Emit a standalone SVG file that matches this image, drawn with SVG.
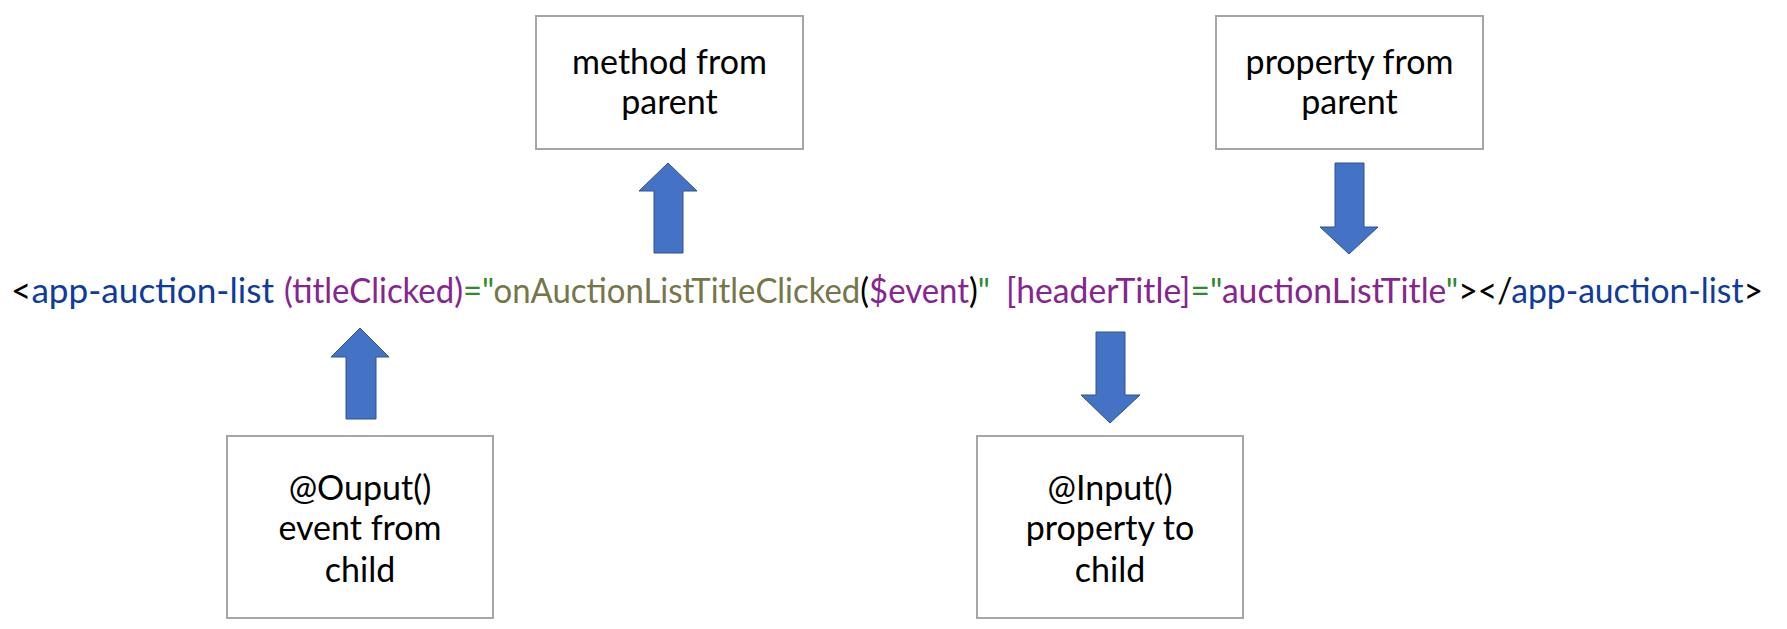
<svg xmlns="http://www.w3.org/2000/svg" width="1787" height="629" viewBox="0 0 1787 629">
  <style>
    .box { fill: #ffffff; stroke: #a6a6a6; stroke-width: 2; }
    .lbl { font-family: Lato, "Liberation Sans", sans-serif; font-size: 34px; fill: #000000; text-anchor: middle; }
    .arrow { fill: #4472c4; stroke: #2f528f; stroke-width: 1; }
    .code { font-family: Lato, "Liberation Sans", sans-serif; font-size: 35px; fill: #000000; }
    .blue { fill: #0d3b9e; }
    .purple { fill: #85258f; }
    .green { fill: #2d8a2d; }
    .olive { fill: #767649; }
    .black { fill: #000000; }
  </style>
  <rect width="1787" height="629" fill="#ffffff"/>

  <g id="method-from-parent">
    <rect class="box" x="536" y="16" width="267" height="133"/>
    <text class="lbl" x="669.5" y="74">method from</text>
    <text class="lbl" x="669.5" y="114">parent</text>
  </g>

  <g id="property-from-parent">
    <rect class="box" x="1216" y="16" width="267" height="133"/>
    <text class="lbl" x="1349.5" y="74">property from</text>
    <text class="lbl" x="1349.5" y="114">parent</text>
  </g>

  <g id="output-event-from-child">
    <rect class="box" x="227" y="436" width="266" height="182"/>
    <text class="lbl" x="360" y="500">@Ouput()</text>
    <text class="lbl" x="360" y="540">event from</text>
    <text class="lbl" x="360" y="582">child</text>
  </g>

  <g id="input-property-to-child">
    <rect class="box" x="977" y="436" width="266" height="182"/>
    <text class="lbl" x="1110" y="500">@Input()</text>
    <text class="lbl" x="1110" y="540">property to</text>
    <text class="lbl" x="1110" y="582">child</text>
  </g>

  <g id="template-code">
    <text class="code" x="11" y="303" textLength="263" lengthAdjust="spacingAndGlyphs"><tspan class="black">&lt;</tspan><tspan class="blue">app-auction-list</tspan></text>
    <text class="code" x="284" y="303" textLength="706" lengthAdjust="spacingAndGlyphs"><tspan class="purple">(titleClicked)</tspan><tspan class="green">="</tspan><tspan class="olive">onAuctionListTitleClicked</tspan><tspan class="black">(</tspan><tspan class="purple">$event</tspan><tspan class="black">)</tspan><tspan class="green">"</tspan></text>
    <text class="code" x="1006" y="303" textLength="757" lengthAdjust="spacingAndGlyphs"><tspan class="purple">[headerTitle]</tspan><tspan class="green">="</tspan><tspan class="purple">auctionListTitle</tspan><tspan class="green">"</tspan><tspan class="black">&gt;&lt;/</tspan><tspan class="blue">app-auction-list</tspan><tspan class="black">&gt;</tspan></text>
  </g>

  <g id="connectors">
    <polygon class="arrow" points="668,163 697,191 683,191 683,253 654,253 654,191 639,191"/>
    <polygon class="arrow" points="1335,163 1364,163 1364,227 1378,227 1349,254 1320,227 1335,227"/>
    <polygon class="arrow" points="360,328 389,357 376,357 376,419 346,419 346,357 331,357"/>
    <polygon class="arrow" points="1096,332 1125,332 1125,395 1140,395 1110,423 1081,395 1096,395"/>
  </g>
</svg>
